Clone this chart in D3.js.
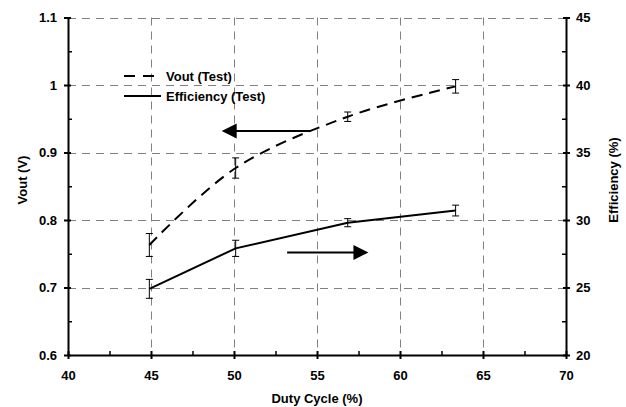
<!DOCTYPE html>
<html>
<head>
<meta charset="utf-8">
<script src="https://cdn.jsdelivr.net/npm/d3@7"></script>
<style>
  body { margin: 0; background: #fff; }
  text { font-family: "Liberation Sans", Arial, sans-serif; font-weight: bold; }
</style>
</head>
<body>
<div id="chart"></div>
<script>
// data
var duty = [44.9, 50.1, 56.85, 63.35];
var vout = [0.763, 0.877, 0.953, 0.998];
var voutErr = [0.017, 0.015, 0.007, 0.010];
var eff = [24.9, 27.9, 29.8, 30.7];
var effErr = [0.7, 0.6, 0.3, 0.4];

var xTicks = [40, 45, 50, 55, 60, 65, 70];
var yLeftTicks = [0.6, 0.7, 0.8, 0.9, 1.0, 1.1];
var yRightTicks = [20, 25, 30, 35, 40, 45];

// annotation arrows in data units [x from, x to, y]
var arrowLeft = [54.6, 49.26, 0.932];   // points to left axis (Vout)
var arrowRight = [53.2, 58.1, 27.6];    // points to right axis (Efficiency)

var width = 626, height = 407;
var plot = { left: 68, right: 566, top: 17.5, bottom: 355 };

var x = d3.scaleLinear().domain([40, 70]).range([plot.left, plot.right]);
var yL = d3.scaleLinear().domain([0.6, 1.1]).range([plot.bottom, plot.top]);
var yR = d3.scaleLinear().domain([20, 45]).range([plot.bottom, plot.top]);

var svg = d3.select("#chart")
    .append("svg")
    .attr("width", width)
    .attr("height", height);

// grid
var grid = svg.append("g")
    .attr("stroke", "#808080")
    .attr("stroke-width", 1)
    .attr("stroke-dasharray", "8,6");

grid.selectAll("line.h")
    .data(yLeftTicks.slice(1))
    .enter()
    .append("line")
    .attr("x1", plot.left).attr("x2", plot.right)
    .attr("y1", function (d) { return Math.round(yL(d)) + 0.5; })
    .attr("y2", function (d) { return Math.round(yL(d)) + 0.5; });

grid.selectAll("line.v")
    .data(xTicks.slice(1, -1))
    .enter()
    .append("line")
    .attr("y1", plot.top).attr("y2", plot.bottom)
    .attr("x1", function (d) { return Math.round(x(d)) + 0.5; })
    .attr("x2", function (d) { return Math.round(x(d)) + 0.5; });

// minor ticks (inside)
function minors(arr) {
    var out = [];
    for (var i = 0; i < arr.length - 1; i++) out.push((arr[i] + arr[i + 1]) / 2);
    return out;
}

svg.append("g")
    .attr("transform", "translate(0," + plot.bottom + ")")
    .call(d3.axisBottom(x).tickValues(minors(xTicks)).tickSize(-4).tickFormat(""))
    .call(function (g) { g.select(".domain").remove(); })
    .selectAll("line").attr("stroke-width", 1.5);

svg.append("g")
    .attr("transform", "translate(" + plot.left + ",0)")
    .call(d3.axisLeft(yL).tickValues(minors(yLeftTicks)).tickSize(-4).tickFormat(""))
    .call(function (g) { g.select(".domain").remove(); })
    .selectAll("line").attr("stroke-width", 1.5);

svg.append("g")
    .attr("transform", "translate(" + plot.right + ",0)")
    .call(d3.axisRight(yR).tickValues(minors(yRightTicks)).tickSize(-4).tickFormat(""))
    .call(function (g) { g.select(".domain").remove(); })
    .selectAll("line").attr("stroke-width", 1.5);

// main axes
var fmt = d3.format("~g");

var xAxis = svg.append("g")
    .attr("transform", "translate(0," + plot.bottom + ")")
    .call(d3.axisBottom(x).tickValues(xTicks).tickSize(4).tickPadding(12).tickSizeOuter(0));
xAxis.selectAll(".tick line").attr("y1", -4);

var yAxisL = svg.append("g")
    .attr("transform", "translate(" + plot.left + ",0)")
    .call(d3.axisLeft(yL).tickValues(yLeftTicks).tickFormat(fmt).tickSize(4).tickPadding(7).tickSizeOuter(0));
yAxisL.selectAll(".tick line").attr("x1", 3);

var yAxisR = svg.append("g")
    .attr("transform", "translate(" + plot.right + ",0)")
    .call(d3.axisRight(yR).tickValues(yRightTicks).tickSize(4).tickPadding(6).tickSizeOuter(0));
yAxisR.selectAll(".tick line").attr("x1", -3);

[xAxis, yAxisL, yAxisR].forEach(function (g) {
    g.attr("font-size", 13).attr("font-family", null);
    g.select(".domain").attr("stroke-width", 2);
    g.selectAll(".tick line").attr("stroke-width", 2);
    g.selectAll(".tick text").attr("fill", "#000");
});

// axis titles
svg.append("text")
    .attr("x", (plot.left + plot.right) / 2)
    .attr("y", 403)
    .attr("text-anchor", "middle")
    .attr("font-size", 13)
    .text("Duty Cycle (%)");

svg.append("text")
    .attr("transform", "translate(27,180) rotate(-90)")
    .attr("text-anchor", "middle")
    .attr("font-size", 13)
    .text("Vout (V)");

svg.append("text")
    .attr("transform", "translate(618,180) rotate(-90)")
    .attr("text-anchor", "middle")
    .attr("font-size", 13)
    .text("Efficiency (%)");

// series
var voutData = duty.map(function (d, i) { return { x: d, y: vout[i], e: voutErr[i] }; });
var effData = duty.map(function (d, i) { return { x: d, y: eff[i], e: effErr[i] }; });

// Vout is a smoothed curve, efficiency uses straight segments
svg.append("path")
    .datum(voutData)
    .attr("fill", "none")
    .attr("stroke", "#000")
    .attr("stroke-width", 2)
    .attr("stroke-dasharray", "11,7")
    .attr("d", d3.line()
        .x(function (d) { return x(d.x); })
        .y(function (d) { return yL(d.y); })
        .curve(d3.curveCatmullRom));

svg.append("path")
    .datum(effData)
    .attr("fill", "none")
    .attr("stroke", "#000")
    .attr("stroke-width", 2)
    .attr("d", d3.line()
        .x(function (d) { return x(d.x); })
        .y(function (d) { return yR(d.y); }));

// error bars
function errorBars(data, y) {
    var g = svg.append("g").attr("stroke", "#000").attr("stroke-width", 1).attr("fill", "none");
    var bars = g.selectAll("g").data(data).enter().append("g");
    bars.append("line")
        .attr("x1", function (d) { return x(d.x); })
        .attr("x2", function (d) { return x(d.x); })
        .attr("y1", function (d) { return y(d.y + d.e); })
        .attr("y2", function (d) { return y(d.y - d.e); });
    bars.append("line")
        .attr("x1", function (d) { return x(d.x) - 3.5; })
        .attr("x2", function (d) { return x(d.x) + 3.5; })
        .attr("y1", function (d) { return y(d.y + d.e); })
        .attr("y2", function (d) { return y(d.y + d.e); });
    bars.append("line")
        .attr("x1", function (d) { return x(d.x) - 3.5; })
        .attr("x2", function (d) { return x(d.x) + 3.5; })
        .attr("y1", function (d) { return y(d.y - d.e); })
        .attr("y2", function (d) { return y(d.y - d.e); });
}
errorBars(voutData, yL);
errorBars(effData, yR);

// arrows
function arrow(a, y) {
    var x0 = x(a[0]), x1 = x(a[1]), yy = y(a[2]);
    var dir = x1 > x0 ? 1 : -1;
    svg.append("line")
        .attr("x1", x0).attr("x2", x1 - dir * 10)
        .attr("y1", yy).attr("y2", yy)
        .attr("stroke", "#000").attr("stroke-width", 2);
    svg.append("path")
        .attr("d", "M" + x1 + "," + yy +
            "L" + (x1 - dir * 15) + "," + (yy - 7.5) +
            "L" + (x1 - dir * 15) + "," + (yy + 7.5) + "Z")
        .attr("fill", "#000");
}
arrow(arrowLeft, yL);
arrow(arrowRight, yR);

// legend
var legend = svg.append("g").attr("font-size", 13);
var legendItems = [
    { name: "Vout (Test)", dash: "11,8", y: 76 },
    { name: "Efficiency (Test)", dash: null, y: 96 }
];
legend.selectAll("line")
    .data(legendItems)
    .enter()
    .append("line")
    .attr("x1", 124).attr("x2", 161)
    .attr("y1", function (d) { return d.y; })
    .attr("y2", function (d) { return d.y; })
    .attr("stroke", "#000")
    .attr("stroke-width", 2)
    .attr("stroke-dasharray", function (d) { return d.dash; });
legend.selectAll("text")
    .data(legendItems)
    .enter()
    .append("text")
    .attr("x", 166)
    .attr("y", function (d) { return d.y + 4.5; })
    .text(function (d) { return d.name; });
</script>
</body>
</html>
